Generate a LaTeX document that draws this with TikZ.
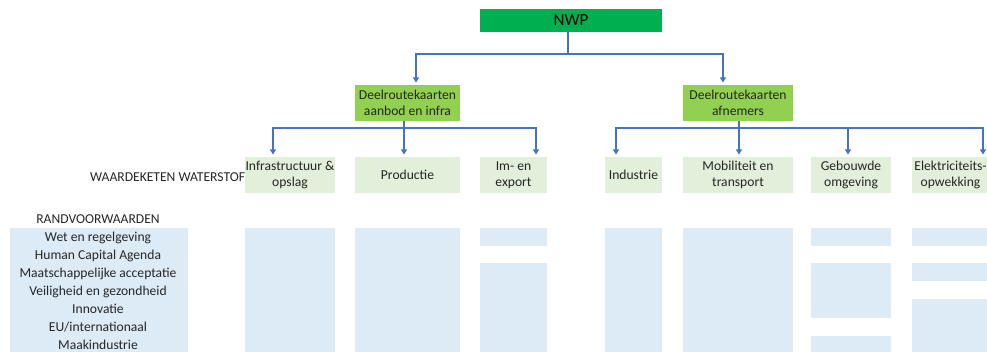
\documentclass[tikz,border=0pt]{standalone}
\usepackage{fontspec}
\setmainfont{Carlito}
\usetikzlibrary{arrows.meta}
\definecolor{nwpgreen}{HTML}{00B050}
\definecolor{subgreen}{HTML}{92D050}
\definecolor{lightgreen}{HTML}{E2EFDA}
\definecolor{lightblue}{HTML}{DDEBF7}
\definecolor{linkblue}{HTML}{4472C4}
\definecolor{txt}{HTML}{262626}
\begin{document}
\begin{tikzpicture}[x=1pt,y=-1pt,
  every node/.style={inner sep=0pt, outer sep=0pt, text=txt, font=\fontsize{13.6}{15.5}\selectfont, align=center},
  box/.style={anchor=north west, draw=none},
  topbox/.style={box, fill=nwpgreen, text=black, font=\fontsize{17}{20}\selectfont},
  subbox/.style={box, fill=subgreen},
  chainbox/.style={box, fill=lightgreen},
  cellbox/.style={box, fill=lightblue},
  link/.style={draw=linkblue, line width=1.1pt},
  arrowlink/.style={link, -{Triangle[width=6pt,length=5pt]}, shorten >=2.5pt},
]
\path[use as bounding box] (0,0) rectangle (987,352);

% top level
\node[topbox, minimum width=182, minimum height=23] (nwp) at (480,9) {NWP};
\node[subbox, minimum width=105, minimum height=36] (d1) at (355,85) {Deelroutekaarten\\aanbod en infra};
\node[subbox, minimum width=110, minimum height=36] (d2) at (683,85) {Deelroutekaarten\\afnemers};

% value chain
\node[chainbox, minimum width=90, minimum height=36] (infra) at (245,157) {Infrastructuur \&\\opslag};
\node[chainbox, minimum width=105, minimum height=36] (prod) at (355,157) {Productie};
\node[chainbox, minimum width=67, minimum height=36] (imex) at (480,157) {Im- en\\export};
\node[chainbox, minimum width=57, minimum height=36] (ind) at (605,157) {Industrie};
\node[chainbox, minimum width=110, minimum height=36] (mob) at (683,157) {Mobiliteit en\\transport};
\node[chainbox, minimum width=80, minimum height=36] (geb) at (811,157) {Gebouwde\\omgeving};
\node[chainbox, minimum width=77, minimum height=36] (elek) at (912,157) {Elektriciteits-\\opwekking};

\node[anchor=east] (wk) at (245,177) {WAARDEKETEN WATERSTOF};
\node (rv) at (98,219) {RANDVOORWAARDEN};

% left panel
\node[cellbox, minimum width=178, minimum height=124] (panel) at (10,228) {};
\node (r1) at (98,237.5) {Wet en regelgeving};
\node (r2) at (98,256) {Human Capital Agenda};
\node (r3) at (98,273.5) {Maatschappelijke acceptatie};
\node (r4) at (98,291.5) {Veiligheid en gezondheid};
\node (r5) at (98,309) {Innovatie};
\node (r6) at (98,327) {EU/internationaal};
\node (r7) at (98,345) {Maakindustrie};

% lower cells
\node[cellbox, minimum width=90, minimum height=124] (c1) at (245,228) {};
\node[cellbox, minimum width=105, minimum height=124] (c2) at (355,228) {};
\node[cellbox, minimum width=67, minimum height=18] (c3a) at (480,228) {};
\node[cellbox, minimum width=67, minimum height=89] (c3b) at (480,263) {};
\node[cellbox, minimum width=57, minimum height=124] (c4) at (605,228) {};
\node[cellbox, minimum width=110, minimum height=124] (c5) at (683,228) {};
\node[cellbox, minimum width=80, minimum height=18] (c6a) at (811,228) {};
\node[cellbox, minimum width=80, minimum height=55] (c6b) at (811,263) {};
\node[cellbox, minimum width=80, minimum height=17] (c6c) at (811,335.5) {};
\node[cellbox, minimum width=84, minimum height=18] (c7a) at (912,228) {};
\node[cellbox, minimum width=84, minimum height=18] (c7b) at (912,263) {};
\node[cellbox, minimum width=84, minimum height=53] (c7c) at (912,299) {};

% connectors
\draw[link] ([xshift=-3pt]nwp.south) -- ++(0,22) coordinate (j0);
\draw[arrowlink] (j0) -| ([xshift=8.5pt]d1.north);
\draw[arrowlink] (j0) -| ([xshift=-15pt]d2.north);

\draw[link] ([xshift=-3.5pt]d1.south) -- ++(0,7) coordinate (j1);
\draw[arrowlink] (j1) -| ([xshift=28pt]infra.north west);
\draw[arrowlink] (j1) -- ([xshift=-3.5pt]prod.north);
\draw[arrowlink] (j1) -| ([xshift=-11pt]imex.north east);

\draw[link] ([xshift=1pt]d2.south) -- ++(0,7) coordinate (j2);
\draw[arrowlink] (j2) -| ([xshift=11pt]ind.north west);
\draw[arrowlink] (j2) -- ([xshift=1pt]mob.north);
\draw[arrowlink] (j2) -| ([xshift=-3pt]geb.north);
\draw[arrowlink] (j2) -| ([xshift=71pt]elek.north west);
\end{tikzpicture}
\end{document}
